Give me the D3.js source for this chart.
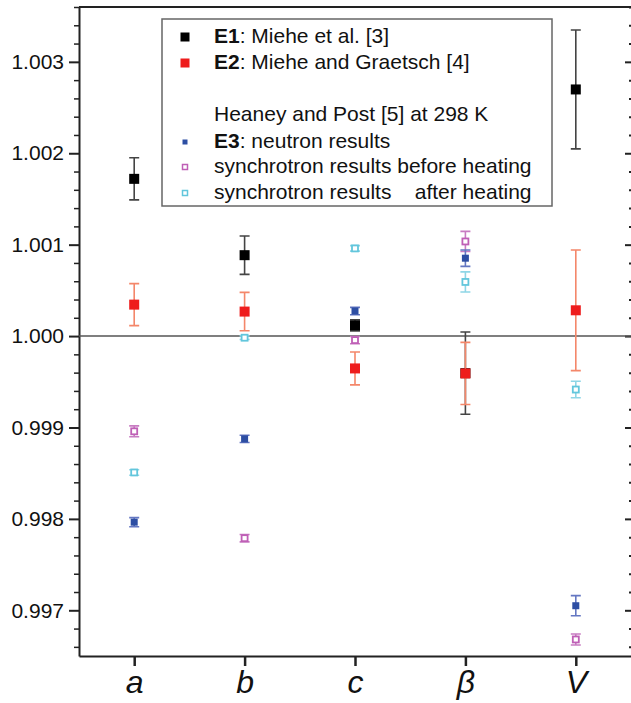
<!DOCTYPE html>
<meta charset="utf-8">
<script src="https://d3js.org/d3.v7.min.js"></script>
<style>
  body { margin: 0; background: #fff; }
  text { font-family: "Liberation Sans", Arial, sans-serif; fill: #111; }
</style>
<div id="chart"></div>
<script>

// categories and values
var params = ["a", "b", "c", "β", "V"];

var e1Val = [1.00172, 1.000885, 1.000117, 0.999594, 1.002698];
var e1Err = [0.00023, 0.00021, 0.00006, 0.00045, 0.00065];

var e2Val = [1.000344, 1.000268, 0.999646, 0.999591, 1.000282];
var e2Err = [0.00023, 0.00021, 0.00018, 0.00034, 0.00066];

var neutronVal = [0.997964, 0.998875, 1.000274, 1.000852, 0.99705];
var neutronErr = [0.00005, 0.00004, 0.00004, 0.00009, 0.00011];

var beforeVal = [0.998958, 0.997789, 0.999956, 1.001035, 0.996681];
var beforeErr = [0.00006, 0.00004, 0.00004, 0.00011, 0.00006];

var afterVal = [0.998508, 0.999982, 1.000959, 1.000592, 0.999415];
var afterErr = [0.00003, 0.00002, 0.00003, 0.00011, 0.00009];

var yTicks = [0.997, 0.998, 0.999, 1.000, 1.001, 1.002, 1.003];

var W = 631, H = 703;
var margin = {top: 7, right: 0, bottom: 47, left: 79};
var width = W - margin.left - margin.right,
    height = H - margin.top - margin.bottom;

var svg = d3.select("#chart")
  .append("svg")
    .attr("width", W)
    .attr("height", H)
  .append("g")
    .attr("transform", "translate(" + margin.left + "," + margin.top + ")");

var x = d3.scalePoint()
  .domain(params)
  .range([0, width])
  .padding(0.5);

var y = d3.scaleLinear()
  .domain([0.9965, 1.0036])
  .range([height, 0]);

// minor ticks every 0.0002
var minor = d3.range(0.9966, 1.0036, 0.0002).filter(function(v) {
  return Math.abs(Math.round(v * 1000) - v * 1000) > 1e-6;
});

// left axis
svg.append("g")
  .call(d3.axisLeft(y).tickValues(minor).tickSize(5).tickSizeOuter(0).tickFormat(""))
  .call(function(g) { g.select(".domain").remove(); })
  .selectAll("line").attr("stroke", "#222").attr("stroke-width", 1.5);

var yl = svg.append("g")
  .call(d3.axisLeft(y).tickValues(yTicks).tickSize(10).tickSizeOuter(0).tickPadding(5)
    .tickFormat(d3.format(".3f")));
yl.select(".domain").attr("stroke", "#222").attr("stroke-width", 2);
yl.selectAll("line").attr("stroke", "#222").attr("stroke-width", 2);
yl.selectAll("text").style("font-size", "21px").attr("fill", "#111");

// right axis, ticks inward
svg.append("g")
  .attr("transform", "translate(" + width + ",0)")
  .call(d3.axisLeft(y).tickValues(minor).tickSize(2).tickFormat(""))
  .call(function(g) { g.select(".domain").remove(); })
  .selectAll("line").attr("stroke", "#222").attr("stroke-width", 2);
svg.append("g")
  .attr("transform", "translate(" + width + ",0)")
  .call(d3.axisLeft(y).tickValues(yTicks).tickSize(6).tickFormat(""))
  .call(function(g) { g.select(".domain").remove(); })
  .selectAll("line").attr("stroke", "#222").attr("stroke-width", 2);

// top border
svg.append("line")
  .attr("x1", 0).attr("x2", width)
  .attr("y1", 0).attr("y2", 0)
  .attr("stroke", "#222").attr("stroke-width", 2);

// bottom axis
var xa = svg.append("g")
  .attr("transform", "translate(0," + height + ")")
  .call(d3.axisBottom(x).tickSize(10).tickSizeOuter(0).tickPadding(0));
xa.select(".domain").attr("stroke", "#222").attr("stroke-width", 2);
xa.selectAll("line").attr("stroke", "#222").attr("stroke-width", 2.5);
xa.selectAll("text")
  .attr("y", 37)
  .attr("dy", 0)
  .style("font-size", "32px")
  .style("font-style", "italic")
  .attr("fill", "#111");

// reference line at 1
svg.append("line")
  .attr("x1", 0).attr("x2", width)
  .attr("y1", y(1)).attr("y2", y(1))
  .attr("stroke", "#555").attr("stroke-width", 1.5);

function series(vals, errs, opt) {
  var data = params.map(function(p, i) { return {p: p, v: vals[i], e: errs[i]}; });
  var g = svg.append("g");
  var cap = opt.cap / 2;
  g.selectAll(".err").data(data).enter().append("path")
    .attr("d", function(d) {
      var cx = x(d.p), t = y(d.v + d.e), b = y(d.v - d.e);
      return "M" + cx + "," + t + "V" + b +
        "M" + (cx - cap) + "," + t + "H" + (cx + cap) +
        "M" + (cx - cap) + "," + b + "H" + (cx + cap);
    })
    .attr("fill", "none")
    .attr("stroke", opt.errColor)
    .attr("stroke-width", 1.6);
  var s = opt.size;
  g.selectAll(".pt").data(data).enter().append("rect")
    .attr("x", function(d) { return x(d.p) - s / 2; })
    .attr("y", function(d) { return y(d.v) - s / 2; })
    .attr("width", s).attr("height", s)
    .attr("fill", opt.open ? "#fff" : opt.color)
    .attr("stroke", opt.color)
    .attr("stroke-width", opt.open ? 1.8 : 0);
}

series(e1Val, e1Err, {color: "#000", errColor: "#444", size: 10, cap: 10});
series(e2Val, e2Err, {color: "#ee1c1c", errColor: "#f4876a", size: 10, cap: 10});
series(afterVal, afterErr, {color: "#62c6dc", errColor: "#8fd6e6", size: 6, cap: 10, open: true});
series(beforeVal, beforeErr, {color: "#bf5fb6", errColor: "#c87cc2", size: 6, cap: 10, open: true});
series(neutronVal, neutronErr, {color: "#2d4ea3", errColor: "#6477c2", size: 7, cap: 10});

// legend
var lg = svg.append("g").attr("transform", "translate(" + (162 - margin.left) + "," + (19 - margin.top) + ")");
lg.append("rect")
  .attr("width", 390).attr("height", 187)
  .attr("fill", "#fff").attr("stroke", "#666").attr("stroke-width", 1.5);

var legendRows = [
  {y: 24, bold: "E1", text: ": Miehe et al. [3]", color: "#000", size: 9},
  {y: 50, bold: "E2", text: ": Miehe and Graetsch [4]", color: "#ee1c1c", size: 9},
  {y: 102, bold: "", text: "Heaney and Post [5] at 298 K"},
  {y: 129, bold: "E3", text: ": neutron results", color: "#2d4ea3", size: 5},
  {y: 154, bold: "", text: "synchrotron results before heating", color: "#bf5fb6", size: 5, open: true},
  {y: 180, bold: "", text: "synchrotron results    after heating", color: "#62c6dc", size: 5, open: true}
];

legendRows.forEach(function(r) {
  if (r.color) {
    lg.append("rect")
      .attr("x", 23 - r.size / 2).attr("y", r.y - 6 - r.size / 2)
      .attr("width", r.size).attr("height", r.size)
      .attr("fill", r.open ? "#fff" : r.color)
      .attr("stroke", r.color).attr("stroke-width", r.open ? 1.5 : 0);
  }
  var t = lg.append("text")
    .attr("x", 52).attr("y", r.y)
    .style("font-size", "21px")
    .style("white-space", "pre");
  if (r.bold) t.append("tspan").style("font-weight", "bold").text(r.bold);
  t.append("tspan").text(r.text);
});

</script>
